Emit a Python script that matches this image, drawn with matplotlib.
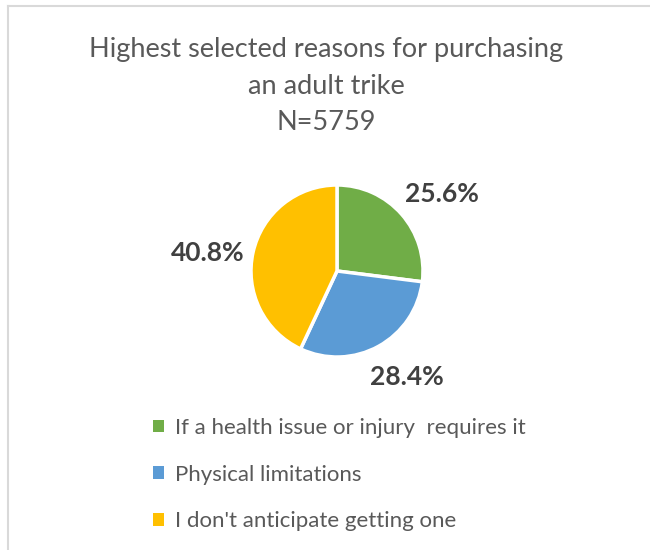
import matplotlib
matplotlib.use('Agg')
import matplotlib.pyplot as plt
from matplotlib.lines import Line2D
from matplotlib.patches import Patch
from matplotlib.transforms import offset_copy

plt.rcParams['font.family'] = ['Lato', 'DejaVu Sans']

# data
categories = ['If a health issue or injury  requires it',
              'Physical limitations',
              "I don't anticipate getting one"]
shares = [25.6, 28.4, 40.8]
colors = ['#70AD47', '#5B9BD5', '#FFC000']
title = 'Highest selected reasons for purchasing\nan adult trike\nN=5759'

W, H = 650, 550
fig = plt.figure(figsize=(W / 100, H / 100), dpi=100)

# light frame at top and left edges
fig.add_artist(Line2D([8 / W, 1], [1 - 6 / H, 1 - 6 / H], color='#D9D9D9', lw=1.5))
fig.add_artist(Line2D([8 / W, 8 / W], [0, 1 - 6 / H], color='#D9D9D9', lw=1.5))

fig.text(326 / W, 1 - 86 / H, title, ha='center', va='center',
         fontsize=19.5, color='#595959', linespacing=1.55)

cx, cy, r = 337, 271, 86
ax = fig.add_axes([(cx - r) / W, (H - cy - r) / H, 2 * r / W, 2 * r / H])
wedges, texts = ax.pie(shares, colors=colors, startangle=90, counterclock=False,
                       labels=[f'{v:.1f}%' for v in shares], labeldistance=1.5,
                       wedgeprops=dict(edgecolor='white', linewidth=2.5))
# small nudges so labels sit where Excel put them (pixels, x right / y up)
nudges = [(8, -8), (8, 7), (-3, -10)]
for t, (dx, dy) in zip(texts, nudges):
    t.set_ha('center')
    t.set_va('center')
    t.set_fontsize(19)
    t.set_fontweight('bold')
    t.set_color('#404040')
    t.set_transform(offset_copy(ax.transData, fig=fig, x=dx, y=dy, units='dots'))
ax.set_xlim(-1, 1)
ax.set_ylim(-1, 1)
ax.axis('off')

handles = [Patch(facecolor=c, edgecolor='none') for c in colors]
fig.legend(handles, categories, loc='upper left', bbox_to_anchor=(133 / W, 1 - 398 / H),
           frameon=False, fontsize=16, labelcolor='#595959', handlelength=0.5,
           handleheight=0.5, handletextpad=0.5, labelspacing=1.2)

fig.savefig('out.png', dpi=100)
